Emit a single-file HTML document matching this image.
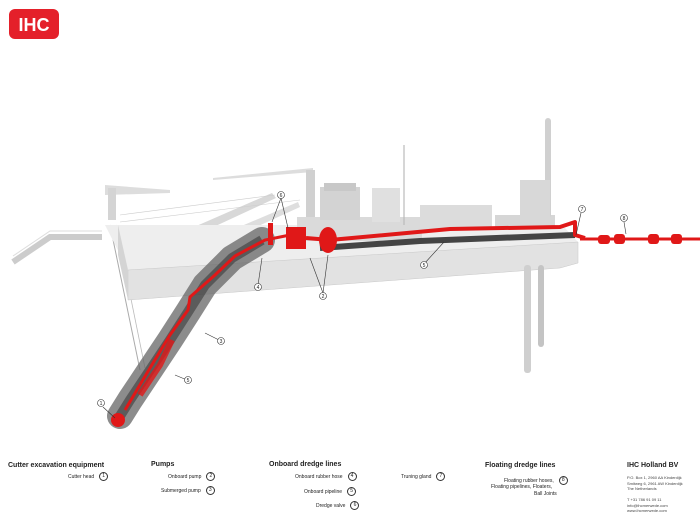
<!DOCTYPE html>
<html><head><meta charset="utf-8"><style>
body{margin:0;background:#fff;width:700px;height:525px;overflow:hidden;position:relative;font-family:"Liberation Sans",sans-serif}
.t{position:absolute;font-size:5px;color:#222;white-space:nowrap}
.h{position:absolute;font-size:7px;font-weight:bold;color:#222;white-space:nowrap}
.c{display:inline-block;width:7px;height:7px;border:0.6px solid #333;border-radius:50%;font-size:5px;text-align:center;line-height:7px;margin-left:5px;vertical-align:middle}
</style></head><body>
<svg width="700" height="525" style="position:absolute;left:0;top:0">
<rect x="9" y="9" width="50" height="30" rx="6" fill="#e4202a"/>
<text x="34" y="31" font-family="Liberation Sans" font-weight="bold" font-size="18" fill="#fff" text-anchor="middle">IHC</text>
<!-- gangway -->
<polyline points="13,262 50,237 102,237" fill="none" stroke="#ccc" stroke-width="6"/>
<polyline points="13,256 50,231 102,231" fill="none" stroke="#ddd" stroke-width="1"/>
<!-- cables -->
<line x1="110" y1="225" x2="140" y2="370" stroke="#aaa" stroke-width="1"/>
<line x1="116" y1="225" x2="145" y2="368" stroke="#bbb" stroke-width="0.8"/>
<!-- left gantry -->
<polygon points="105,185 170,190 170,193 105,195" fill="#ddd"/>
<rect x="108" y="188" width="8" height="32" fill="#d4d4d4"/>
<!-- mid gantry -->
<polygon points="213,178 313,168 313,172 213,180" fill="#ddd"/>
<rect x="306" y="170" width="9" height="50" fill="#d0d0d0"/>
<!-- booms -->
<polygon points="130,255 272,193 276,198 138,262" fill="#d8d8d8"/>
<polygon points="150,265 298,202 300,207 158,272" fill="#dedede"/>
<line x1="120" y1="215" x2="275" y2="195" stroke="#ccc" stroke-width="0.6"/>
<line x1="120" y1="222" x2="300" y2="200" stroke="#ccc" stroke-width="0.6"/>
<!-- deck -->
<polygon points="105,225 300,225 565,228 578,242 128,270" fill="#eeeeee"/>
<!-- hull -->
<polygon points="128,270 578,242 578,263 560,268 128,300" fill="#e2e2e2" stroke="#c8c8c8" stroke-width="0.5"/>
<polygon points="118,225 128,270 128,300 118,255" fill="#d4d4d4"/>
<!-- superstructure -->
<rect x="297" y="217" width="125" height="24" fill="#dadada"/>
<rect x="320" y="187" width="40" height="33" fill="#d3d3d3"/>
<rect x="324" y="183" width="32" height="8" fill="#c8c8c8"/>
<rect x="372" y="188" width="28" height="34" fill="#e0e0e0"/>
<line x1="404" y1="145" x2="404" y2="225" stroke="#bbb" stroke-width="1.2"/>
<rect x="420" y="205" width="72" height="25" fill="#dcdcdc"/>
<rect x="495" y="215" width="60" height="14" fill="#d6d6d6"/>
<!-- mast -->
<rect x="545" y="118" width="6" height="100" rx="3" fill="#d0d0d0"/>
<rect x="520" y="180" width="30" height="45" fill="#d8d8d8"/>
<!-- spuds -->
<rect x="524" y="265" width="7" height="108" rx="3" fill="#cfcfcf"/>
<rect x="538" y="265" width="6" height="82" rx="3" fill="#c4c4c4"/>
<!-- dark ladder band -->
<polyline points="262,240 232,258 205,285 188,312 170,340 150,370 130,400 120,416" fill="none" stroke="#666" stroke-width="26" stroke-linecap="round" stroke-linejoin="round" opacity="0.75"/>
<polyline points="262,240 232,258 205,285 188,312 170,340 150,370 130,400 120,416" fill="none" stroke="#333" stroke-width="10" stroke-linejoin="round" opacity="0.55"/>
<polyline points="320,248 420,241 575,235" fill="none" stroke="#444" stroke-width="6"/>
<!-- red pipes -->
<polyline points="290,235 265,240 235,256 215,275 190,297 188,310 170,335 150,368 125,410" fill="none" stroke="#e01818" stroke-width="3"/>
<polyline points="172,340 160,365 140,395" fill="none" stroke="#e01818" stroke-width="6" opacity="0.8"/>
<rect x="286" y="227" width="20" height="22" fill="#e01818"/>
<rect x="268" y="223" width="5" height="22" fill="#e01818"/>
<polyline points="306,238 330,240 450,229 560,227 575,222 575,235 585,238" fill="none" stroke="#e01818" stroke-width="4" stroke-linejoin="round"/>
<ellipse cx="328" cy="240" rx="9" ry="13" fill="#e01818"/>
<ellipse cx="118" cy="420" rx="7" ry="7" fill="#e01818"/>
<!-- floating line -->
<line x1="580" y1="239" x2="700" y2="239" stroke="#e01818" stroke-width="3"/>
<rect x="598" y="235" width="12" height="9" rx="3" fill="#e01818"/>
<rect x="614" y="234" width="11" height="10" rx="3" fill="#e01818"/>
<rect x="648" y="234" width="11" height="10" rx="3" fill="#e01818"/>
<rect x="671" y="234" width="11" height="10" rx="3" fill="#e01818"/>
<!-- callouts -->
<g font-family="Liberation Sans" font-size="5" text-anchor="middle" fill="#222" stroke-width="0.6">
<line x1="103" y1="407" x2="115" y2="418" stroke="#333"/><circle cx="101" cy="403" r="3.5" fill="#fff" stroke="#333"/><text x="101" y="405">1</text>
<line x1="323" y1="293" x2="310" y2="258" stroke="#333"/><line x1="323" y1="293" x2="328" y2="255" stroke="#333"/><circle cx="323" cy="296" r="3.5" fill="#fff" stroke="#333"/><text x="323" y="298">2</text>
<line x1="221" y1="341" x2="205" y2="333" stroke="#333"/><circle cx="221" cy="341" r="3.5" fill="#fff" stroke="#333"/><text x="221" y="343">3</text>
<line x1="258" y1="285" x2="262" y2="258" stroke="#333"/><circle cx="258" cy="287" r="3.5" fill="#fff" stroke="#333"/><text x="258" y="289">4</text>
<line x1="187" y1="380" x2="175" y2="375" stroke="#333"/><circle cx="188" cy="380" r="3.5" fill="#fff" stroke="#333"/><text x="188" y="382">5</text>
<line x1="424" y1="264" x2="444" y2="242" stroke="#333"/><circle cx="424" cy="265" r="3.5" fill="#fff" stroke="#333"/><text x="424" y="267">5</text>
<line x1="281" y1="198" x2="272" y2="222" stroke="#333"/><line x1="281" y1="198" x2="288" y2="228" stroke="#333"/><circle cx="281" cy="195" r="3.5" fill="#fff" stroke="#333"/><text x="281" y="197">6</text>
<line x1="581" y1="213" x2="576" y2="235" stroke="#333"/><circle cx="582" cy="209" r="3.5" fill="#fff" stroke="#333"/><text x="582" y="211">7</text>
<line x1="624" y1="222" x2="626" y2="234" stroke="#333"/><circle cx="624" cy="218" r="3.5" fill="#fff" stroke="#333"/><text x="624" y="220">8</text>
</g>
</svg>
<div class="h" style="left:8px;top:462px">Cutter excavation equipment</div>
<div class="t" style="left:68px;top:472px">Cutter head<span class="c">1</span></div>
<div class="h" style="left:151px;top:461px">Pumps</div>
<div class="t" style="left:168px;top:472px">Onboard pump<span class="c">2</span></div>
<div class="t" style="left:161px;top:486px">Submerged pump<span class="c">3</span></div>
<div class="h" style="left:269px;top:461px">Onboard dredge lines</div>
<div class="t" style="left:295px;top:472px">Onboard rubber hose<span class="c">4</span></div>
<div class="t" style="left:304px;top:487px">Onboard pipeline<span class="c">5</span></div>
<div class="t" style="left:316px;top:501px">Dredge valve<span class="c">6</span></div>
<div class="t" style="left:401px;top:472px">Truning gland<span class="c">7</span></div>
<div class="h" style="left:485px;top:462px">Floating dredge lines</div>
<div class="t" style="left:504px;top:476px">Floating rubber hoses,<span class="c">8</span></div>
<div class="t" style="left:491px;top:484px">Floating pipelines, Floaters,</div>
<div class="t" style="left:534px;top:491px">Ball Joints</div>
<div class="h" style="left:627px;top:462px">IHC Holland BV</div>
<div class="t" style="left:627px;top:475px;font-size:4px;line-height:5.5px;color:#444">P.O. Box 1, 2960 AA Kinderdijk<br>Smitweg 6, 2961 AW Kinderdijk<br>The Netherlands<br><br>T +31 786 91 09 11<br>info@ihcmerwede.com<br>www.ihcmerwede.com</div>
</body></html>
